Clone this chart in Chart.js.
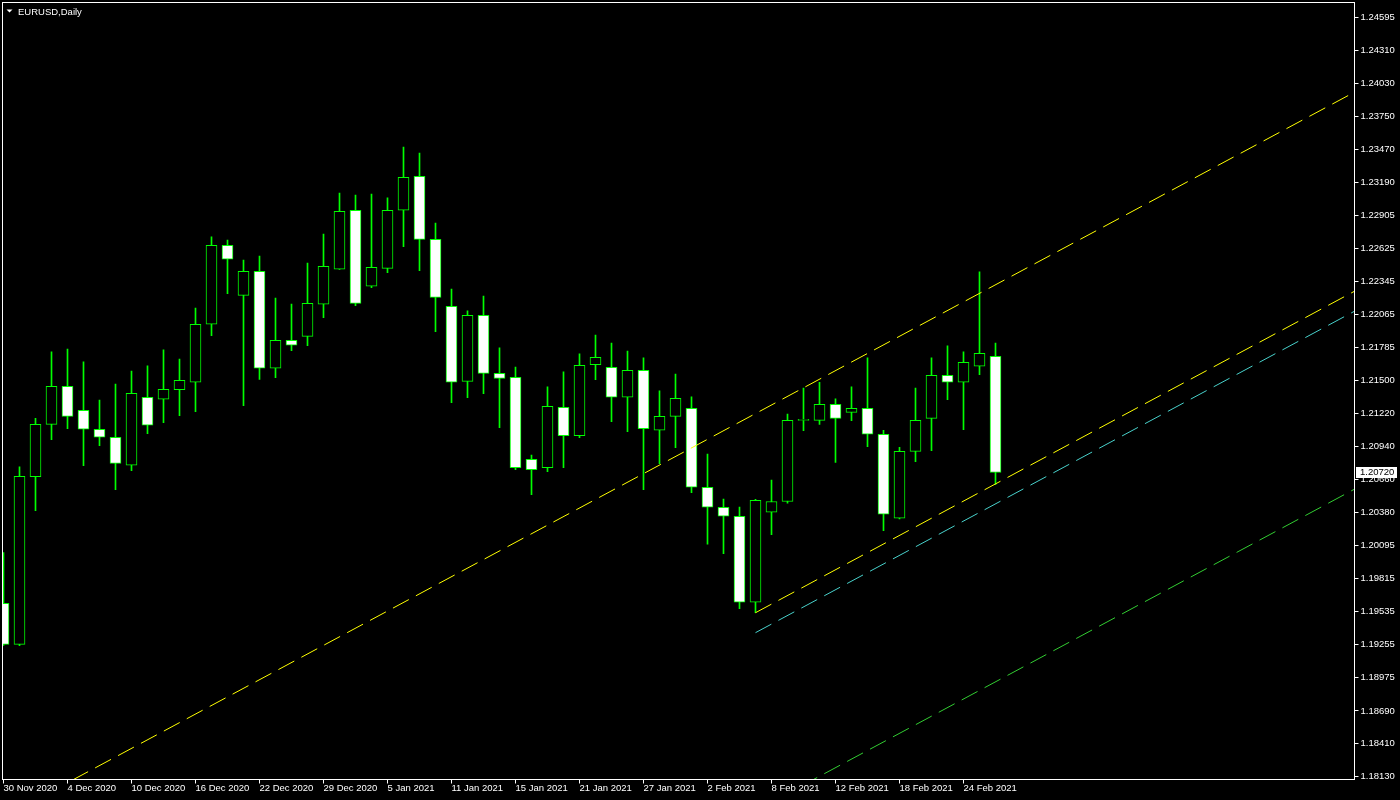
<!DOCTYPE html>
<html>
<head>
    <meta charset="UTF-8">
    <title>EURUSD,Daily</title>
    <script src="https://cdn.jsdelivr.net/npm/chart.js"></script>
    <style>
        body { margin: 0; background: #000; }
        canvas { display: block; }
    </style>
</head>
<body>
<canvas id="myChart" width="1400" height="800"></canvas>
<script>
// daily bars, 30 Nov 2020 .. 26 Feb 2021
const opens = [1.19606, 1.19257, 1.20684, 1.21130, 1.21454, 1.21249, 1.21088, 1.21020, 1.20781, 1.21360,
    1.21343, 1.21425, 1.21488, 1.21982, 1.22654, 1.22228, 1.22433, 1.21607, 1.21845, 1.21879,
    1.22152, 1.22450, 1.22952, 1.22305, 1.22458, 1.22952, 1.23241, 1.22705, 1.22135, 1.21496,
    1.22058, 1.21564, 1.21530, 1.20832, 1.20761, 1.21275, 1.21033, 1.21638, 1.21616, 1.21360,
    1.21590, 1.21079, 1.21198, 1.21266, 1.20594, 1.20424, 1.20347, 1.19615, 1.20381, 1.20473,
    1.21164, 1.21164, 1.21300, 1.21232, 1.21266, 1.21045, 1.20330, 1.20900, 1.21181, 1.21547,
    1.21488, 1.21624, 1.21709];
const highs = [1.20037, 1.20767, 1.21181, 1.21746, 1.21771, 1.21661, 1.21337, 1.21473, 1.21584, 1.21627,
    1.21763, 1.21686, 1.22120, 1.22725, 1.22699, 1.22529, 1.22563, 1.22205, 1.22154, 1.22503,
    1.22750, 1.23099, 1.23082, 1.23091, 1.23057, 1.23491, 1.23440, 1.22844, 1.22282, 1.22095,
    1.22222, 1.21780, 1.21618, 1.20869, 1.21448, 1.21576, 1.21729, 1.21890, 1.21822, 1.21754,
    1.21695, 1.21414, 1.21558, 1.21363, 1.20877, 1.20494, 1.20426, 1.20492, 1.20656, 1.21218,
    1.21439, 1.21488, 1.21346, 1.21448, 1.21695, 1.21079, 1.20934, 1.21439, 1.21695, 1.21797,
    1.21746, 1.22427, 1.21822];
const lows = [1.19247, 1.19246, 1.20395, 1.20999, 1.21093, 1.20778, 1.20948, 1.20574, 1.20735, 1.21050,
    1.21144, 1.21203, 1.21238, 1.21885, 1.22242, 1.21289, 1.21512, 1.21527, 1.21757, 1.21799,
    1.22038, 1.22448, 1.22140, 1.22293, 1.22421, 1.22642, 1.22438, 1.21919, 1.21314, 1.21357,
    1.21391, 1.21101, 1.20744, 1.20531, 1.20727, 1.20761, 1.21016, 1.21510, 1.21152, 1.21067,
    1.20574, 1.20795, 1.20931, 1.20548, 1.20109, 1.20029, 1.19560, 1.19526, 1.20190, 1.20458,
    1.21076, 1.21129, 1.20805, 1.21161, 1.20940, 1.20224, 1.20325, 1.20812, 1.20906, 1.21340,
    1.21084, 1.21553, 1.20619];
const closes = [1.19257, 1.20688, 1.21130, 1.21454, 1.21198, 1.21088, 1.21020, 1.20798, 1.21394, 1.21122,
    1.21428, 1.21505, 1.21982, 1.22654, 1.22535, 1.22433, 1.21607, 1.21845, 1.21803, 1.22160,
    1.22475, 1.22944, 1.22160, 1.22467, 1.22952, 1.23233, 1.22705, 1.22211, 1.21488, 1.22058,
    1.21564, 1.21520, 1.20761, 1.20744, 1.21284, 1.21033, 1.21633, 1.21701, 1.21360, 1.21590,
    1.21093, 1.21198, 1.21352, 1.20594, 1.20424, 1.20347, 1.19615, 1.20483, 1.20473, 1.21164,
    1.21166, 1.21300, 1.21181, 1.21266, 1.21045, 1.20364, 1.20900, 1.21164, 1.21547, 1.21488,
    1.21658, 1.21735, 1.20720];

const dateTicks = [0, 4, 8, 12, 16, 20, 24, 28, 32, 36, 40, 44, 48, 52, 56, 60];
const dateLabels = ['30 Nov 2020', '4 Dec 2020', '10 Dec 2020', '16 Dec 2020', '22 Dec 2020', '29 Dec 2020',
    '5 Jan 2021', '11 Jan 2021', '15 Jan 2021', '21 Jan 2021', '27 Jan 2021', '2 Feb 2021',
    '8 Feb 2021', '12 Feb 2021', '18 Feb 2021', '24 Feb 2021'];
const priceTicks = [1.24595, 1.24310, 1.24030, 1.23750, 1.23470, 1.23190, 1.22905, 1.22625, 1.22345, 1.22065,
    1.21785, 1.21500, 1.21220, 1.20940, 1.20660, 1.20380, 1.20095, 1.19815, 1.19535, 1.19255,
    1.18975, 1.18690, 1.18410, 1.18130];

// channel lines: [bar index, price]
const upperLine = [[0, 1.17786], [84.44, 1.23958]];
const lowerLine = [[47, 1.19526], [84.44, 1.22263]];
const cyanLine = [[47, 1.19356], [84.44, 1.22093]];
const greenLine = [[47, 1.17841], [84.44, 1.20578]];

const FONT = 'Liberation Sans';

const bodyFill = opens.map((o, i) => closes[i] > o ? '#000000' : (closes[i] < o ? '#ffffff' : '#00ff00'));

function lineSet(pts, color) {
    return {
        type: 'line',
        data: pts.map(p => ({ x: p[0], y: p[1] })),
        borderColor: color,
        borderWidth: 1,
        borderDash: [18, 8],
        pointRadius: 0,
        fill: false,
        tension: 0,
        clip: 0,
        order: 0
    };
}

const bgPlugin = {
    id: 'bg',
    beforeDraw(chart) {
        const c = chart.ctx;
        c.save();
        c.fillStyle = '#000';
        c.fillRect(0, 0, chart.width, chart.height);
        c.restore();
    },
    afterDraw(chart) {
        const c = chart.ctx;
        const a = chart.chartArea;
        c.save();
        // frame
        c.strokeStyle = '#fff';
        c.lineWidth = 1;
        c.strokeRect(a.left, a.top, a.right - a.left, a.bottom - a.top);
        // title
        c.fillStyle = '#fff';
        c.beginPath();
        c.moveTo(6.5, 9.5); c.lineTo(12.5, 9.5); c.lineTo(9.5, 12.5);
        c.closePath();
        c.fill();
        c.font = '9.5px "' + FONT + '"';
        c.textBaseline = 'alphabetic';
        c.fillText('EURUSD,Daily', 18, 14.5);
        // last price box
        const last = closes[closes.length - 1];
        const y = Math.round(chart.scales.y.getPixelForValue(last));
        c.fillRect(1356, y - 5, 41, 11);
        c.fillStyle = '#000';
        c.textBaseline = 'middle';
        c.fillText(last.toFixed(5), 1360, y + 0.5);
        c.restore();
    }
};

const ctx = document.getElementById('myChart').getContext('2d');
const chart = new Chart(ctx, {
    type: 'bar',
    data: {
        datasets: [
            lineSet(upperLine, '#ffff00'),
            lineSet(lowerLine, '#ffff00'),
            lineSet(cyanLine, '#48d1cc'),
            lineSet(greenLine, '#32cd32'),
            {
                data: opens.map((o, i) => ({ x: i, y: [o, closes[i]] })),
                backgroundColor: bodyFill,
                borderColor: '#00ff00',
                borderWidth: opens.map((o, i) => o === closes[i] ? 0 : 1),
                borderSkipped: false,
                grouped: false,
                categoryPercentage: 1,
                barPercentage: 1,
                maxBarThickness: 11,
                minBarLength: 1,
                clip: 0,
                order: 1
            },
            {
                data: lows.map((l, i) => ({ x: i, y: [l, highs[i]] })),
                backgroundColor: '#00ff00',
                borderWidth: 0,
                grouped: false,
                categoryPercentage: 1,
                barPercentage: 1,
                maxBarThickness: 1,
                clip: 0,
                order: 2
            }
        ]
    },
    options: {
        responsive: false,
        animation: false,
        devicePixelRatio: 1,
        layout: { padding: { left: 2.5, top: 2.5, right: 0, bottom: 0 } },
        plugins: {
            legend: { display: false },
            tooltip: { enabled: false }
        },
        scales: {
            x: {
                type: 'linear',
                min: -0.0625,
                max: 84.4375,
                offset: false,
                afterBuildTicks: (s) => { s.ticks = dateTicks.map(v => ({ value: v })); },
                afterFit: (s) => { s.height = 20.5; s.paddingLeft = 0; s.paddingRight = 0; },
                border: { display: false },
                grid: { drawOnChartArea: false, drawTicks: true, tickLength: 4, color: '#fff', offset: false },
                ticks: {
                    autoSkip: false,
                    maxRotation: 0,
                    minRotation: 0,
                    align: 'start',
                    padding: -1,
                    color: '#fff',
                    font: { family: FONT, size: 9.5 },
                    callback: (v, i) => dateLabels[i]
                }
            },
            y: {
                type: 'linear',
                position: 'right',
                min: 1.18106,
                max: 1.24721,
                beginAtZero: false,
                afterBuildTicks: (s) => { s.ticks = priceTicks.map(v => ({ value: v })); },
                afterFit: (s) => { s.width = 45.5; s.paddingTop = 0; s.paddingBottom = 0; },
                border: { display: false },
                grid: { drawOnChartArea: false, drawTicks: true, tickLength: 4, color: '#fff' },
                ticks: {
                    autoSkip: false,
                    padding: 2,
                    color: '#fff',
                    font: { family: FONT, size: 9.5 },
                    callback: (v) => v.toFixed(5)
                }
            }
        }
    },
    plugins: [bgPlugin]
});
</script>
</body>
</html>
